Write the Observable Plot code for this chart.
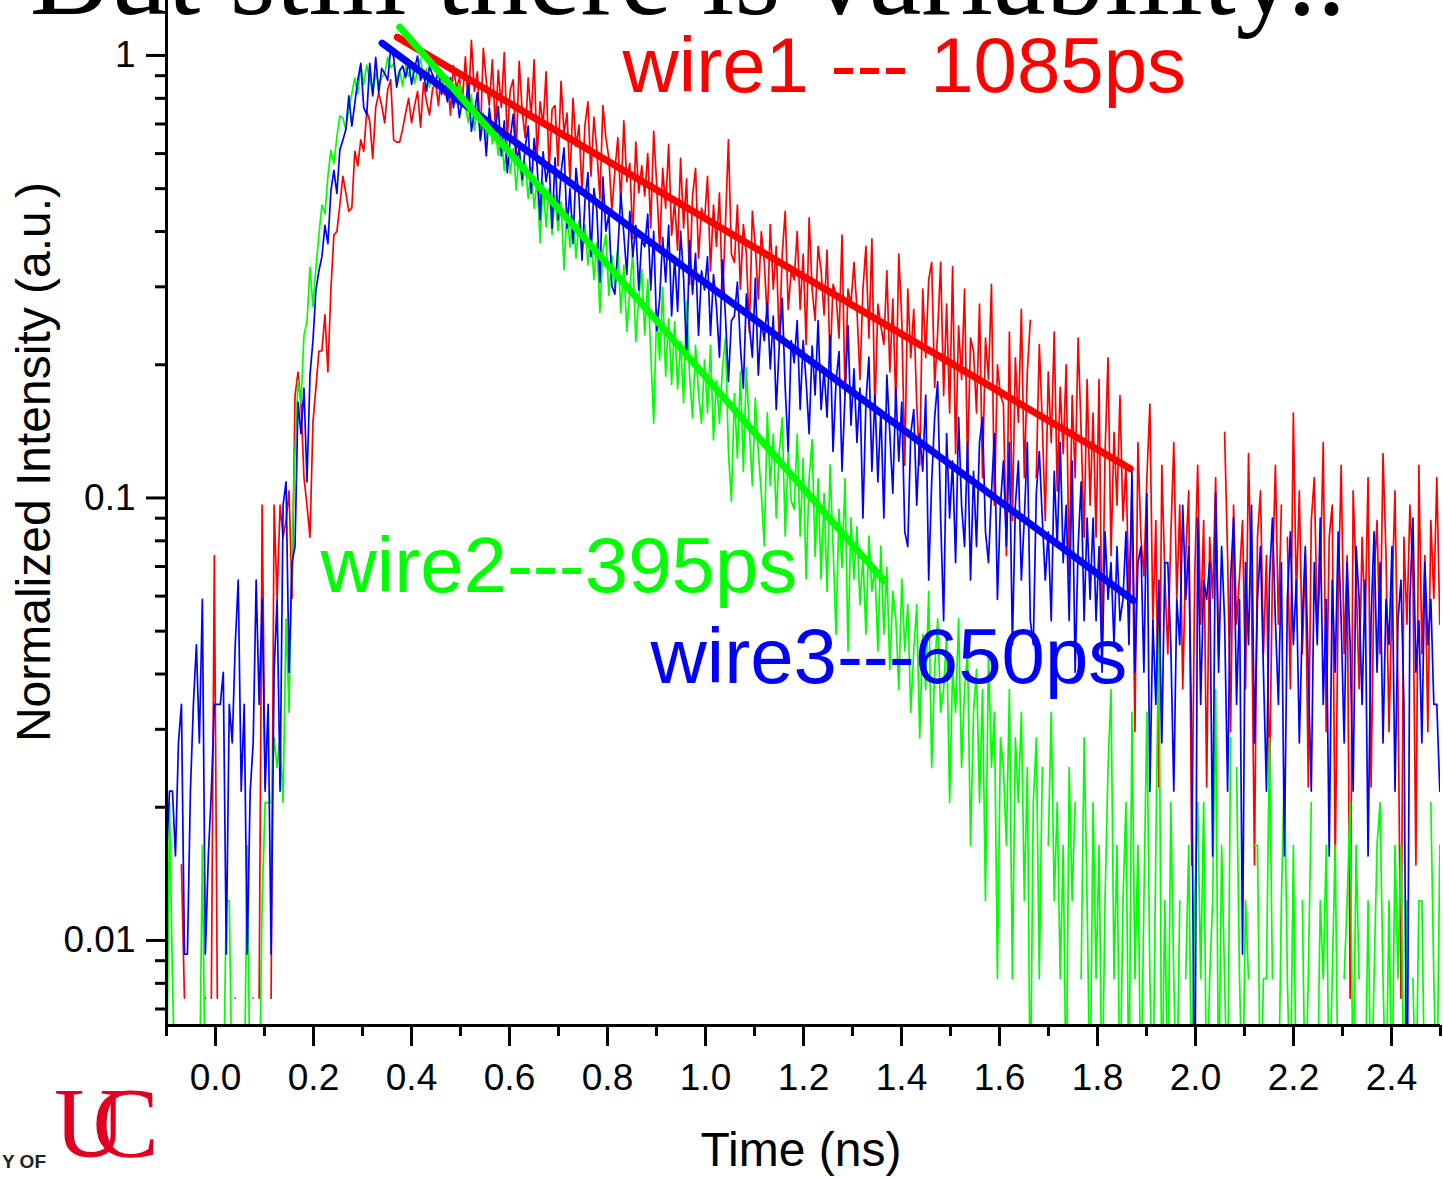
<!DOCTYPE html>
<html>
<head>
<meta charset="utf-8">
<script src="https://cdn.jsdelivr.net/npm/d3@7"></script>
<script src="https://cdn.jsdelivr.net/npm/@observablehq/plot@0.6"></script>
<style>
  html, body { margin: 0; padding: 0; background: #fff; }
  #wrap { position: relative; width: 1443px; height: 1177px; overflow: hidden; background: #fff; }
  #wrap > svg { position: absolute; left: 0; top: 0; }
</style>
</head>
<body>
<div id="wrap"></div>
<script>
// ---- time axis of the decay traces (channel start, channel width in ns) ----
const t0 = -0.1;
const dt = 0.0061;

// ---- photon counts per channel ----
const wire1Counts = [
0,0,0,0,0,2,1,0,0,0,
0,0,0,1,0,1,10,1,0,0,
0,0,0,1,0,0,0,0,0,1,
0,1,13,3,0,1,13,8,13,11,
12,14,8,23,26,22,15,13,11,20,
24,29,29,35,26,40,53,54,62,72,
66,60,61,82,76,87,82,101,96,79,
103,111,104,95,113,119,87,86,86,92,
100,108,95,104,112,93,117,106,99,113,
118,104,125,110,121,99,128,114,120,107,
134,102,146,112,124,88,140,118,104,132,
93,125,103,137,87,113,119,81,131,101,
88,120,98,132,80,106,94,124,74,102,
104,76,118,90,100,70,108,84,94,66,
94,106,72,98,82,64,104,88,79,60,
74,88,62,96,70,77,52,86,66,76,
65,81,55,91,69,49,75,61,85,53,
63,49,79,55,71,41,65,75,47,61,
57,72,44,62,50,66,38,56,87,48,
46,62,40,56,48,32,60,50,38,54,
46,34,56,40,50,30,48,60,36,44,
42,54,36,48,30,58,40,34,50,44,
35,49,27,41,39,31,53,23,40,37,
46,36,25,40,50,31,52,21,37,33,
30,44,26,38,22,48,34,16,40,28,
36,22,16,40,28,42,46,24,32,46,
23,37,21,45,17,33,25,40,16,31,
29,21,37,15,31,25,41,13,27,23,
22,10,32,12,28,20,36,15,26,34,
0,15,30,20,12,26,18,32,14,24,
17,27,9,23,15,31,19,11,25,13,
21,11,25,6,17,28,10,19,13,23,
12,16,8,14,4,18,11,9,15,22,
7,12,3,16,9,6,11,18,8,13,
5,10,14,2,9,16,7,12,3,11,
8,15,6,0,19,10,4,13,7,9,
12,5,17,8,2,11,14,6,10,3,
9,16,7,13,0,11,5,21,8,14,
6,10,3,12,15,7,9,18,4,11,
13,2,8,16,6,10,1,14,9,5,
11,7,15,3,9,12,6,17,10,4,
8,14,5,1,11,7,13,9,2,16,
6,10,4,12,8,15,7
];

const wire2Counts = [
1,5,2,1,0,0,0,0,0,0,
0,1,4,1,0,0,0,0,0,1,
3,3,1,0,0,0,1,4,1,0,
0,1,3,5,5,5,7,6,7,5,
13,8,19,31,45,40,57,61,81,66,
81,96,112,107,130,149,139,160,178,176,
166,185,200,217,200,232,210,232,215,200,
222,210,218,222,242,229,234,215,226,208,
231,219,236,211,225,240,216,228,207,222,
213,225,204,218,199,216,206,190,211,197,
186,172,199,165,189,162,181,158,182,154,
168,145,163,134,156,132,150,121,146,124,
140,116,136,110,128,92,126,100,122,96,
118,98,114,80,110,90,106,85,103,88,
101,82,97,76,92,64,88,96,70,86,
73,90,64,82,58,72,88,55,69,80,
57,76,52,36,65,50,73,46,62,44,
61,43,55,40,68,46,37,54,42,36,
50,38,54,33,45,36,48,56,31,24,
42,30,47,28,48,35,26,41,31,25,
19,38,26,34,22,31,37,20,31,24,
23,34,20,30,16,27,33,18,27,16,
25,15,29,19,12,23,17,27,11,22,
16,21,14,18,12,20,15,17,11,19,
12,17,10,15,13,9,16,11,14,8,
11,14,7,12,9,15,6,10,13,8,
9,12,5,10,8,13,6,9,11,4,
8,10,5,9,3,11,6,8,2,7,
6,4,9,2,7,5,8,3,6,1,
5,7,2,6,0,4,8,3,5,2,
4,1,6,3,5,0,2,7,3,1,
5,2,4,1,3,6,9,2,4,1,
3,5,1,8,2,4,1,3,8,2,
1,4,13,1,3,1,5,2,1,3,
0,2,4,1,3,5,2,5,1,2,
3,9,1,4,2,1,7,0,6,2,
1,3,2,0,4,4,1,2,2,7,
2,0,1,3,6,2,1,4,1,0,
3,1,2,5,0,1,3,2,4,1,
2,4,1,0,2,3,5,1,4,2,
0,1,3,1,2,4,5,2,1,3,
1,4,2,4,1,3,0,2,1,3,
3,1,0,5,2,1,4
];

const wire3Counts = [
2,3,3,2,4,5,1,1,3,5,
7,4,9,1,2,3,5,5,5,6,
1,5,4,7,10,3,5,1,3,4,
10,5,9,3,5,1,6,9,3,15,
17,6,11,12,26,22,28,17,30,36,
47,52,56,66,60,79,88,78,98,103,
109,130,111,125,141,154,122,118,154,130,
159,132,150,146,141,166,159,136,148,152,
143,155,138,150,160,141,147,133,152,145,
140,148,131,137,126,143,122,134,116,128,
124,139,108,119,132,103,117,95,122,107,
109,123,95,114,87,104,118,92,99,84,
99,111,78,104,90,68,97,83,92,65,
94,68,87,99,65,80,60,89,77,55,
75,87,56,80,71,49,85,64,70,48,
46,58,78,63,51,71,56,66,47,61,
59,70,47,64,38,45,62,49,66,41,
56,42,64,50,33,61,46,57,37,52,
47,56,37,51,43,33,55,41,29,40,
41,49,35,28,46,39,33,50,30,40,
36,44,31,41,25,35,45,28,20,36,
32,40,25,36,29,22,35,27,40,25,
31,24,37,20,29,34,18,27,39,23,
31,21,28,14,26,33,18,27,17,25,
14,30,22,16,28,19,26,13,12,22,
25,15,22,18,27,10,17,24,29,14,
8,22,14,19,11,24,15,12,21,10,
18,12,21,24,13,11,16,22,9,15,
19,12,21,7,15,19,10,14,21,8,
7,16,20,14,10,13,8,18,12,21,
11,15,8,19,6,12,17,8,14,9,
14,8,12,6,13,9,11,7,12,8,
9,13,7,18,6,11,12,6,16,3,
8,5,10,4,11,11,7,3,9,7,
15,9,12,4,0,14,5,10,9,11,
2,16,6,12,8,3,10,14,5,9,
1,11,7,15,4,9,12,6,3,10,
14,8,5,11,2,9,13,7,10,4,
8,12,6,3,11,7,14,5,9,2,
10,6,13,8,4,11,7,3,12,9,
5,10,2,8,13,6,11,4,9,7,
12,3,8,10,5,0,9,14,6,8,
4,11,7,9,5,5,3
];

// normalisation (counts at unit intensity)
const wire1Norm = 135;
const wire2Norm = 244;
const wire3Norm = 161;

// ---- mono-exponential fits (start / end of each fitted segment) ----
const fitWire   = ["wire1", "wire3", "wire2"];
const fitTStart = [0.371, 0.340, 0.376];
const fitVStart = [1.10, 1.066, 1.159];
const fitTEnd   = [1.867, 1.873, 1.364];
const fitVEnd   = [0.1164, 0.0587, 0.0651];

// ---- labels and ticks ----
const legendLabels = ["wire1 --- 1085ps", "wire2---395ps", "wire3---650ps"];
const titleText = "But still there is variability..";
const xLabel = "Time (ns)";
const yLabel = "Normalized Intensity (a.u.)";
const logoText = "UC";
const logoCaption = "Y OF";
const xMajorTicks = [0, 0.2, 0.4, 0.6, 0.8, 1.0, 1.2, 1.4, 1.6, 1.8, 2.0, 2.2, 2.4];
const xMinorTicks = [-0.1, 0.1, 0.3, 0.5, 0.7, 0.9, 1.1, 1.3, 1.5, 1.7, 1.9, 2.1, 2.3, 2.5];
const yMajorTicks = [0.01, 0.1, 1];
const yMinorTicks = [0.007, 0.008, 0.009, 0.02, 0.03, 0.04, 0.05, 0.06, 0.07, 0.08, 0.09,
                     0.2, 0.3, 0.4, 0.5, 0.6, 0.7, 0.8, 0.9];
const xDomain = [-0.1, 2.5];
const yDomain = [0.006424, 1.331];

// ---- build tables ----
const colors = {wire1: "#ff0000", wire2: "#00ff00", wire3: "#0000ff"};
const wire1Rows = wire1Counts.map((c, i) => ({t: t0 + i * dt, v: c > 0 ? c / wire1Norm : null}));
const wire2Rows = wire2Counts.map((c, i) => ({t: t0 + i * dt, v: c > 0 ? c / wire2Norm : null}));
const wire3Rows = wire3Counts.map((c, i) => ({t: t0 + i * dt, v: (c + 0.5) / wire3Norm}));
const fitRows = fitWire.map((w, k) => [
  {t: fitTStart[k], v: fitVStart[k]},
  {t: fitTEnd[k], v: fitVEnd[k]}
]);

const FONT = "'Liberation Sans', Arial, Helvetica, sans-serif";
const SERIF = "'Liberation Serif', 'Times New Roman', serif";

const chart = Plot.plot({
  width: 1443,
  height: 1177,
  marginLeft: 166,
  marginRight: 3,
  marginTop: 0,
  marginBottom: 152,
  style: {fontFamily: FONT, background: "transparent", color: "#000"},
  x: {domain: xDomain, axis: null, label: null},
  y: {type: "log", domain: yDomain, axis: null, label: null},
  marks: [
    Plot.line(wire1Rows, {x: "t", y: "v", stroke: colors.wire1, strokeWidth: 1.7, clip: true}),
    Plot.line(wire2Rows, {x: "t", y: "v", stroke: colors.wire2, strokeWidth: 1.7, clip: true}),
    Plot.line(wire3Rows, {x: "t", y: "v", stroke: colors.wire3, strokeWidth: 1.7, clip: true}),
    ...fitRows.map((rows, k) => Plot.line(rows, {
      x: "t", y: "v", stroke: colors[fitWire[k]], strokeWidth: 7, strokeLinecap: "round"
    })),
    Plot.ruleX([xDomain[0]], {strokeWidth: 3}),
    Plot.ruleY([yDomain[0]], {strokeWidth: 3}),
    Plot.axisX(xMajorTicks, {anchor: "bottom", tickSize: 21, tickPadding: 17, strokeWidth: 3,
      tickFormat: d3.format(".1f"), fontSize: 37, label: null}),
    Plot.axisX(xMinorTicks, {anchor: "bottom", tickSize: 11, strokeWidth: 3,
      tickFormat: () => "", label: null}),
    Plot.axisY(yMajorTicks, {anchor: "left", tickSize: 20, tickPadding: 11, strokeWidth: 3,
      tickFormat: d => String(d), fontSize: 37, label: null}),
    Plot.axisY(yMinorTicks, {anchor: "left", tickSize: 11, strokeWidth: 3,
      tickFormat: () => "", label: null}),
    Plot.text([legendLabels[0]], {text: d => d, frameAnchor: "top-left", dx: 456, dy: 36.6,
      textAnchor: "start", lineAnchor: "top", fontSize: 78, fill: colors.wire1}),
    Plot.text([legendLabels[1]], {text: d => d, frameAnchor: "top-left", dx: 154, dy: 536.6,
      textAnchor: "start", lineAnchor: "top", fontSize: 78, fill: colors.wire2}),
    Plot.text([legendLabels[2]], {text: d => d, frameAnchor: "top-left", dx: 484, dy: 627.6,
      textAnchor: "start", lineAnchor: "top", fontSize: 78, fill: colors.wire3})
  ]
});

const wrap = document.getElementById("wrap");
wrap.appendChild(chart);

// ---- overlay: slide title, axis titles, logo ----
const ov = d3.create("svg")
  .attr("width", 1443).attr("height", 1177)
  .style("pointer-events", "none");

ov.append("text")
  .attr("x", 688).attr("y", 14)
  .attr("text-anchor", "middle")
  .style("font-family", SERIF)
  .style("font-size", "118px")
  .attr("fill", "#000")
  .text(titleText);

ov.append("text")
  .attr("transform", "translate(50,462) rotate(-90)")
  .attr("text-anchor", "middle")
  .style("font-family", FONT)
  .style("font-size", "48px")
  .attr("fill", "#000")
  .text(yLabel);

ov.append("text")
  .attr("x", 801).attr("y", 1166)
  .attr("text-anchor", "middle")
  .style("font-family", FONT)
  .style("font-size", "48px")
  .attr("fill", "#000")
  .text(xLabel);

// University logo fragment
ov.append("text")
  .attr("x", 46).attr("y", 1168)
  .attr("text-anchor", "end")
  .style("font-family", FONT)
  .style("font-size", "19px")
  .style("font-weight", "bold")
  .attr("fill", "#222")
  .text(logoCaption);
ov.append("text")
  .attr("x", 54).attr("y", 1156)
  .style("font-family", SERIF)
  .style("font-size", "100px")
  .style("letter-spacing", "-34px")
  .attr("fill", "#e00122")
  .text(logoText);

wrap.appendChild(ov.node());
</script>
</body>
</html>
